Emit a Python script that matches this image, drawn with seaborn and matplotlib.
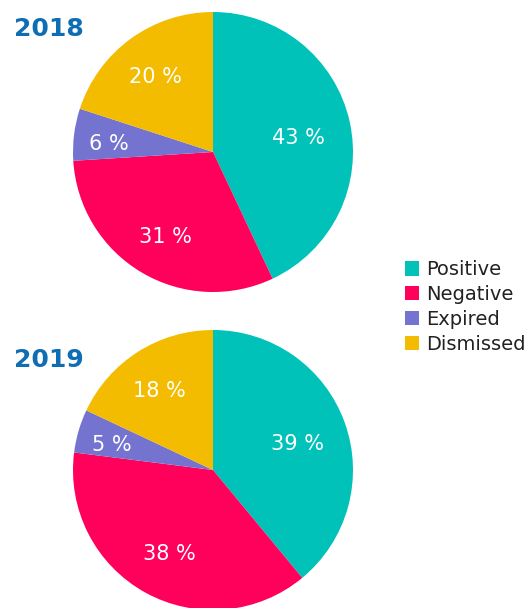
import matplotlib
matplotlib.use("Agg")
import matplotlib.pyplot as plt
from matplotlib.patches import Patch
import numpy as np
import seaborn as sns

categories = ["Positive", "Negative", "Expired", "Dismissed"]
years = ["2018", "2019"]
values_2018 = [43, 31, 6, 20]
values_2019 = [39, 38, 5, 18]

sns.set_theme(style="white")
plt.rcParams["font.family"] = ["DejaVu Sans"]
colors = sns.color_palette(["#00C2B9", "#FF005B", "#7474D0", "#F4BC00"])

W, H = 531, 608
fig = plt.figure(figsize=(W / 100, H / 100), dpi=100)


def pie_axes(cx, cy, r):
    # pixel centre/radius -> figure fraction
    return fig.add_axes([(cx - r) / W, (H - cy - r) / H, 2 * r / W, 2 * r / H])


for year, vals, cy, ty in [(years[0], values_2018, 152, 29),
                           (years[1], values_2019, 470, 360)]:
    ax = pie_axes(213, cy, 140)
    wedges, _, autotexts = ax.pie(
        vals, colors=colors, startangle=90, counterclock=False,
        labels=None, autopct=lambda p: f"{p:.0f} %", pctdistance=0.6,
        textprops=dict(color="white", fontsize=15),
        wedgeprops=dict(linewidth=0))
    total = sum(vals)
    # small slices get their label pushed further out, like the original
    for w, t, v in zip(wedges, autotexts, vals):
        ang = np.deg2rad((w.theta1 + w.theta2) / 2)
        d = 0.77 - 0.33 * v / total
        t.set_position((d * np.cos(ang), d * np.sin(ang) - 0.035))
    ax.set_xlim(-1, 1)
    ax.set_ylim(-1, 1)
    ax.axis("off")
    fig.text(14 / W, 1 - ty / H, year, fontsize=18, fontweight="bold",
             color="#0F6DB3", va="center", ha="left")

handles = [Patch(facecolor=c, edgecolor="none") for c in colors]
fig.legend(handles, categories, loc="center left",
           bbox_to_anchor=(395 / W, 1 - 307 / H), frameon=False,
           fontsize=14, handlelength=0.75, handleheight=0.75,
           handletextpad=0.35, labelspacing=0.3, borderpad=0,
           labelcolor="#222222")

fig.savefig("out.png", dpi=100)
